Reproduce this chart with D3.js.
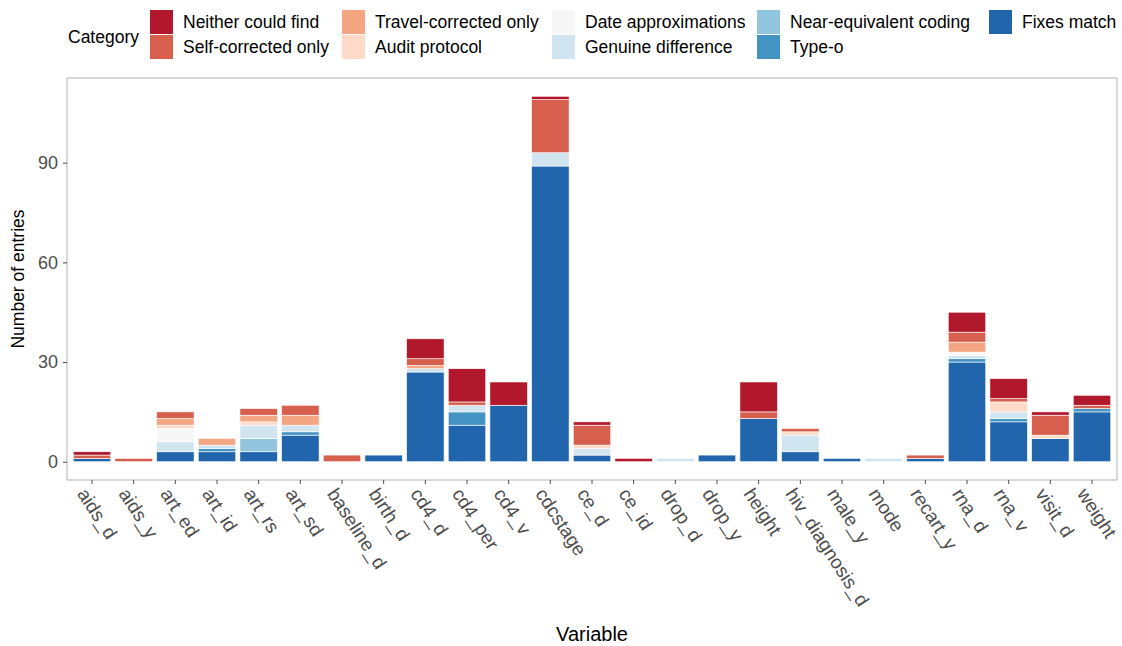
<!DOCTYPE html>
<html>
<head>
<meta charset="utf-8">
<script src="https://cdn.jsdelivr.net/npm/d3@7"></script>
<style>
body{margin:0;background:#fff;font-family:"Liberation Sans",Arial,sans-serif;}
.tick text{fill:#4d4d4d;}
</style>
</head>
<body>
<svg width="1122" height="646"></svg>
<script>
// variables on x axis
let variables = ["aids_d","aids_y","art_ed","art_id","art_rs","art_sd","baseline_d","birth_d",
  "cd4_d","cd4_per","cd4_v","cdcstage","ce_d","ce_id","drop_d","drop_y","height",
  "hiv_diagnosis_d","male_y","mode","recart_y","rna_d","rna_v","visit_d","weight"];

// categories, legend order (first = top of stack)
let categories = ["Neither could find","Self-corrected only","Travel-corrected only","Audit protocol",
  "Date approximations","Genuine difference","Near-equivalent coding","Type-o","Fixes match"];
let colors = ["#b2182b","#d6604d","#f4a582","#fddbc7","#f7f7f7","#d1e5f0","#92c5de","#4393c3","#2166ac"];

// counts per category, one value per variable
let neither   = [1,0,0,0,0,0,0,0,6,10,7,1,1,1,0,0,9,0,0,0,0,6,6,1,3];
let selfCorr  = [1,1,2,0,2,3,2,0,2,1,0,16,6,0,0,0,2,1,0,0,1,3,1,6,1];
let travel    = [0,0,2,2,2,3,0,0,1,0,0,0,0,0,0,0,0,0,0,0,0,3,0,0,0];
let audit     = [0,0,1,0,1,0,0,0,0,0,0,0,1,0,0,0,0,1,0,0,0,0,3,1,0];
let dateApprox= [0,0,4,0,0,0,0,0,0,0,0,0,0,0,0,0,0,0,0,0,0,1,0,0,0];
let genuine   = [0,0,3,1,4,2,0,0,1,2,0,4,2,0,1,0,0,5,0,1,0,1,2,0,0];
let nearEq    = [0,0,0,0,4,0,0,0,0,0,0,0,0,0,0,0,0,0,0,0,0,0,0,0,0];
let typeo     = [0,0,0,1,0,1,0,0,0,4,0,0,0,0,0,0,0,0,0,0,0,1,1,0,1];
let fixes     = [1,0,3,3,3,8,0,2,27,11,17,89,2,0,0,2,13,3,1,0,1,30,12,7,15];

let series = [neither,selfCorr,travel,audit,dateApprox,genuine,nearEq,typeo,fixes];
let yTicks = [0,30,60,90];

let rows = variables.map((v,i) => {
  let r = {variable:v};
  categories.forEach((c,j) => r[c] = series[j][i]);
  return r;
});

let svg = d3.select("svg");
let margin = {top:78, right:5, bottom:166, left:67};
let W = 1122, H = 646;
let pw = W - margin.left - margin.right, ph = H - margin.top - margin.bottom;
let g = svg.append("g").attr("transform","translate(" + margin.left + "," + margin.top + ")");

// ggplot-style discrete scale: 0.6 step expansion each side, bars 0.9 wide
let n = variables.length;
let step = pw / (n + 0.2);
let x = d3.scalePoint().domain(variables).range([0.6*step, pw - 0.6*step]);
let bw = 0.9 * step;

let stack = d3.stack().keys(categories.slice().reverse());
let stacked = stack(rows);
let ymax = d3.max(stacked[stacked.length-1], d => d[1]);
let y = d3.scaleLinear().domain([-ymax*0.05, ymax*1.05]).range([ph,0]);

// bars
g.selectAll("g.layer")
  .data(stacked)
  .enter().append("g")
  .attr("class","layer")
  .attr("fill", d => colors[categories.indexOf(d.key)])
  .selectAll("rect")
  .data(d => d.filter(p => p[1] > p[0]))
  .enter().append("rect")
  .attr("x", d => x(d.data.variable) - bw/2)
  .attr("width", bw)
  .attr("y", d => y(d[1]))
  .attr("height", d => y(d[0]) - y(d[1]))
  .attr("stroke","#fff")
  .attr("stroke-width",0.6);

// panel border
g.append("rect").attr("width",pw).attr("height",ph)
  .attr("fill","none").attr("stroke","#b3b3b3").attr("stroke-width",1);

// y axis
let ya = g.append("g").call(d3.axisLeft(y).tickValues(yTicks).tickSize(4).tickPadding(5));
ya.select(".domain").remove();
ya.selectAll(".tick line").attr("stroke","#4d4d4d");
ya.selectAll(".tick text").attr("font-size",18);

// x axis
let xa = g.append("g").attr("transform","translate(0," + ph + ")");
let xt = xa.selectAll("g.tick").data(variables).enter().append("g")
  .attr("class","tick")
  .attr("transform", d => "translate(" + x(d) + ",0)");
xt.append("line").attr("y2",4).attr("stroke","#4d4d4d");
xt.append("text").text(d => d)
  .attr("font-size",19)
  .attr("text-anchor","start")
  .attr("transform","translate(-10,10) rotate(57)")
  .attr("dy","0.35em");

// axis titles
svg.append("text").text("Number of entries")
  .attr("transform","translate(24," + (margin.top + ph/2) + ") rotate(-90)")
  .attr("text-anchor","middle").attr("font-size",17.5).attr("fill","#000");
svg.append("text").text("Variable")
  .attr("x", margin.left + pw/2).attr("y", 641)
  .attr("text-anchor","middle").attr("font-size",20).attr("fill","#000");

// legend
let leg = svg.append("g");
leg.append("text").text("Category").attr("x",68).attr("y",43).attr("font-size",17.5);
let colX = [150, 342, 552, 757, 989];
categories.forEach((c,i) => {
  let col = Math.floor(i/2), row = i % 2;
  let lx = colX[col], ly = 10 + row*25;
  leg.append("rect").attr("x",lx).attr("y",ly).attr("width",23).attr("height",24)
    .attr("fill",colors[i]);
  leg.append("text").text(c).attr("x",lx+33).attr("y",ly+18).attr("font-size",17.5);
});
</script>
</body>
</html>
